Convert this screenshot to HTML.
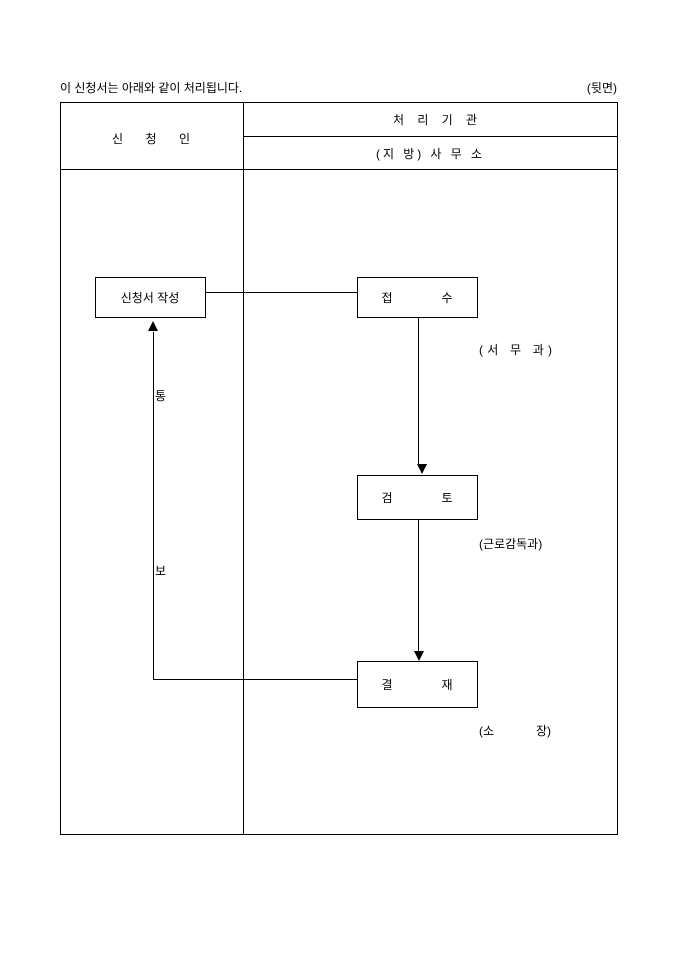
<!DOCTYPE html>
<html><head><meta charset="utf-8"><style>
html,body{margin:0;padding:0;background:#fff;}
svg text{font-family:"Liberation Sans","Noto Sans CJK KR","NanumGothic",sans-serif;font-size:12px;fill:#000;}
</style></head><body>
<svg width="680" height="962" viewBox="0 0 680 962" xmlns="http://www.w3.org/2000/svg">
<rect width="680" height="962" fill="#fff"/>
<text x="60" y="92">이 신청서는 아래와 같이 처리됩니다.</text>
<text x="617" y="92" text-anchor="end">(뒷면)</text>
<g stroke="#000" stroke-width="1" fill="none">
<rect x="60.5" y="102.5" width="557" height="732"/>
<line x1="60" y1="169.5" x2="618" y2="169.5"/>
<line x1="243.5" y1="102" x2="243.5" y2="835"/>
<line x1="243" y1="136.5" x2="618" y2="136.5"/>
<rect x="95.5" y="277.5" width="110" height="40"/>
<rect x="357.5" y="277.5" width="120" height="40"/>
<rect x="357.5" y="475.5" width="120" height="44"/>
<rect x="357.5" y="661.5" width="120" height="46"/>
<line x1="205" y1="292.5" x2="357" y2="292.5"/>
<line x1="418.5" y1="318" x2="418.5" y2="465"/>
<line x1="418.5" y1="520" x2="418.5" y2="651"/>
<line x1="153.5" y1="332" x2="153.5" y2="679.5"/>
<line x1="153" y1="679.5" x2="357" y2="679.5"/>
</g>
<polygon points="417,464 427,464 422,474" fill="#000"/>
<polygon points="414,651 424,651 419,661" fill="#000"/>
<polygon points="148,331 158,331 153,321" fill="#000"/>
<text x="112" y="143" textLength="78" lengthAdjust="spacing">신 청 인</text>
<text x="393" y="124" textLength="84" lengthAdjust="spacing">처 리 기 관</text>
<text x="376" y="158" textLength="106" lengthAdjust="spacing">(지 방) 사 무 소</text>
<text x="150" y="302" text-anchor="middle">신청서 작성</text>
<text x="387" y="302" text-anchor="middle">접</text>
<text x="447" y="302" text-anchor="middle">수</text>
<text x="387" y="502" text-anchor="middle">검</text>
<text x="447" y="502" text-anchor="middle">토</text>
<text x="387" y="689" text-anchor="middle">결</text>
<text x="447" y="689" text-anchor="middle">재</text>
<text x="479" y="354" textLength="73" lengthAdjust="spacing">(서 무 과)</text>
<text x="479" y="548">(근로감독과)</text>
<text x="479" y="735">(소</text>
<text x="551" y="735" text-anchor="end">장)</text>
<text x="155" y="400">통</text>
<text x="155" y="575">보</text>
</svg>
</body></html>
